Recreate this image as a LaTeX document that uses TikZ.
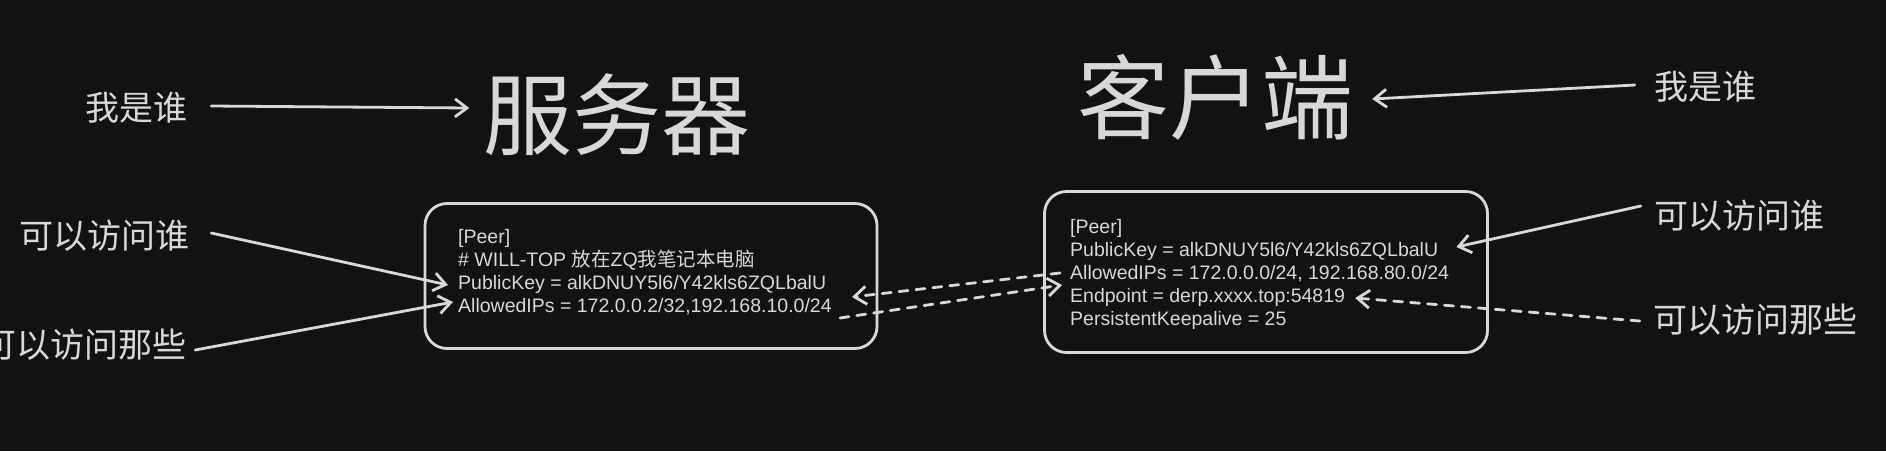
\documentclass[tikz,border=0pt]{standalone}
\usepackage{fontspec}
\setmainfont{Liberation Sans}
\newfontfamily\cjk{Noto Sans CJK SC}
\usetikzlibrary{arrows.meta}
\definecolor{bg}{HTML}{121212}
\definecolor{ink}{HTML}{D8D8D8}
\begin{document}
\begin{tikzpicture}[x=1pt,y=-1pt,
  arr/.style={draw=ink, line width=2.8pt, line cap=round, -{Straight Barb[length=12pt,width=18pt]}},
  dsh/.style={arr, dash pattern=on 9pt off 8pt},
  box/.style={draw=ink, line width=2.8pt, rounded corners=22pt, inner sep=0pt},
  cfg/.style={text=ink, anchor=west, inner sep=0pt, font=\fontsize{19.5}{23}\selectfont, text height=14pt, text depth=4pt},
  lbl/.style={text=ink, inner sep=0pt, font=\cjk\fontsize{34}{40}\selectfont},
  ttl/.style={text=ink, inner sep=0pt, font=\cjk\fontsize{89}{100}\selectfont}]
\fill[bg] (0,0) rectangle (1886,451);
\useasboundingbox (0,0) rectangle (1886,451);
\clip (0,0) rectangle (1886,451);

% boxes
\node[box, minimum width=452pt, minimum height=145pt] (Lbox) at (651,276) {};
\node[box, minimum width=443pt, minimum height=161pt] (Rbox) at (1266,272) {};

% left config
\node[cfg] (Lpeer) at (458,238) {[Peer]};
\node[cfg] (Lcom) at (458,261) {\# WILL-TOP {\cjk 放在}ZQ{\cjk 我笔记本电脑}};
\node[cfg] (Lpk) at (458,284) {PublicKey = alkDNUY5l6/Y42kls6ZQLbalU};
\node[cfg] (Lips) at (458,307) {AllowedIPs = 172.0.0.2/32,192.168.10.0/24};

% right config
\node[cfg] (Rpeer) at (1070,228) {[Peer]};
\node[cfg] (Rpk) at (1070,251) {PublicKey = alkDNUY5l6/Y42kls6ZQLbalU};
\node[cfg] (Rips) at (1070,274) {AllowedIPs = 172.0.0.0/24, 192.168.80.0/24};
\node[cfg] (Rend) at (1070,297) {Endpoint = derp.xxxx.top:54819};
\node[cfg] (Rka) at (1070,320) {PersistentKeepalive = 25};

% titles
\node[ttl] (serv) at (617,115) {服务器};
\node[ttl, font=\cjk\fontsize{92}{100}\selectfont] (cli) at (1215,97) {客户端};

% labels
\node[lbl] (whoL) at (136,108) {我是谁};
\node[lbl] (whoR) at (1705,87) {我是谁};
\node[lbl] (canWhoL) at (104,236) {可以访问谁};
\node[lbl] (canWhatL) at (85,345) {可以访问那些};
\node[lbl] (canWhoR) at (1739,216) {可以访问谁};
\node[lbl] (canWhatR) at (1755,320) {可以访问那些};

% free ends
\coordinate (t1) at (852,297);
\coordinate (s2) at (840,318);
\coordinate (t2) at (1062,285);

% arrows
\draw[arr] ([xshift=24pt,yshift=2pt]whoL.east) -- ([xshift=-14pt,yshift=7pt]serv.west);
\draw[arr] ([xshift=-19pt,yshift=2pt]whoR.west) -- ([xshift=19pt,yshift=-2pt]cli.east);
\draw[arr] ([xshift=22pt,yshift=3pt]canWhoL.east) -- ([xshift=-10pt,yshift=-1pt]Lpk.west);
\draw[arr] ([xshift=8pt,yshift=-5pt]canWhatL.east) -- ([xshift=-5pt,yshift=5pt]Lips.west);
\draw[arr] ([xshift=-13pt,yshift=10pt]canWhoR.west) -- ([xshift=18pt,yshift=4pt]Rpk.east);
\draw[dsh] ([xshift=-13pt,yshift=-1pt]canWhatR.west) -- ([xshift=10pt,yshift=-1pt]Rend.east);
\draw[dsh] ([xshift=-10pt,yshift=1pt]Rips.west) -- (t1);
\draw[dsh] (s2) -- (t2);
\end{tikzpicture}
\end{document}
